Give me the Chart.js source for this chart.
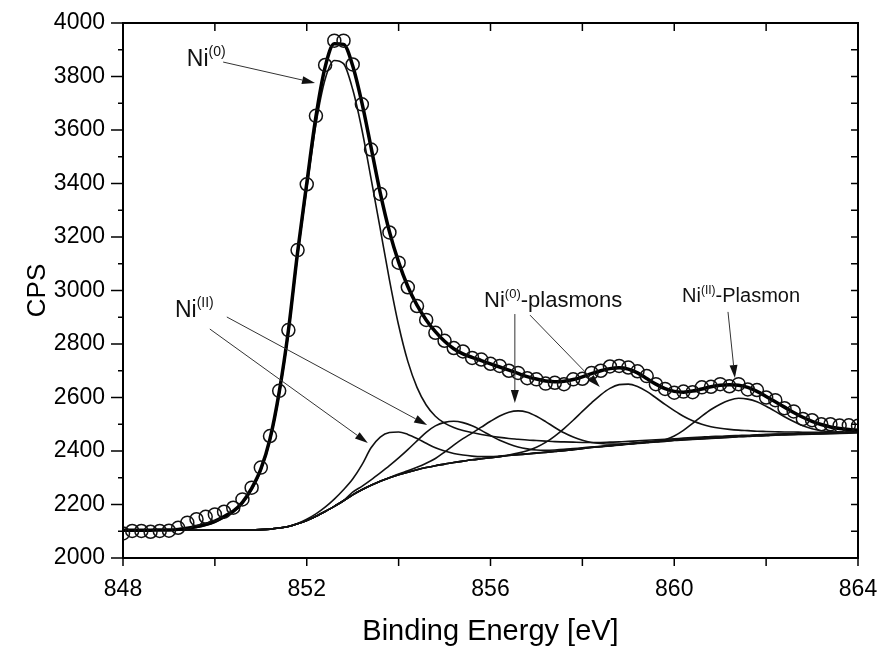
<!DOCTYPE html>
<html>
<head>
<meta charset="utf-8">
<title>Ni 2p3/2 XPS</title>
<script src="https://cdn.jsdelivr.net/npm/chart.js@4.4.1/dist/chart.umd.min.js"></script>
<style>
  body { margin: 0; background: #fff; }
  canvas { display: block; }
</style>
</head>
<body>
<canvas id="myChart" width="878" height="646"></canvas>
<script>
// binding energy grid (eV), one point every 0.2 eV
var energy = [
  848.0, 848.2, 848.4, 848.6, 848.8, 849.0, 849.2, 849.4, 849.6, 849.8,
  850.0, 850.2, 850.4, 850.6, 850.8, 851.0, 851.2, 851.4, 851.6, 851.8,
  852.0, 852.2, 852.4, 852.6, 852.8, 853.0, 853.2, 853.4, 853.6, 853.8,
  854.0, 854.2, 854.4, 854.6, 854.8, 855.0, 855.2, 855.4, 855.6, 855.8,
  856.0, 856.2, 856.4, 856.6, 856.8, 857.0, 857.2, 857.4, 857.6, 857.8,
  858.0, 858.2, 858.4, 858.6, 858.8, 859.0, 859.2, 859.4, 859.6, 859.8,
  860.0, 860.2, 860.4, 860.6, 860.8, 861.0, 861.2, 861.4, 861.6, 861.8,
  862.0, 862.2, 862.4, 862.6, 862.8, 863.0, 863.2, 863.4, 863.6, 863.8,
  864.0
];

// measured counts (circles)
var measured = [
  2092, 2101, 2101, 2098, 2101, 2102, 2113, 2132, 2145, 2154,
  2163, 2173, 2188, 2219, 2263, 2338, 2456, 2625, 2852, 3151,
  3397, 3653, 3843, 3934, 3934, 3845, 3696, 3527, 3361, 3217,
  3104, 3012, 2942, 2890, 2842, 2812, 2785, 2772, 2748, 2742,
  2726, 2718, 2700, 2692, 2672, 2668, 2652, 2655, 2650, 2668,
  2670, 2692, 2700, 2716, 2718, 2712, 2698, 2680, 2650, 2632,
  2618, 2622, 2620, 2638, 2640, 2650, 2642, 2650, 2630, 2628,
  2600, 2590, 2560, 2548, 2520, 2515, 2500, 2500, 2495, 2496,
  2494
];

// fit envelope (thick line)
var envelope = [
  2104, 2104, 2104, 2104, 2105, 2105, 2107, 2111, 2118, 2126,
  2138, 2155, 2175, 2208, 2260, 2332, 2445, 2620, 2850, 3142,
  3400, 3650, 3835, 3922, 3920, 3840, 3702, 3535, 3365, 3220,
  3106, 3015, 2945, 2890, 2846, 2810, 2782, 2763, 2750, 2738,
  2726, 2714, 2702, 2690, 2678, 2669, 2662, 2659, 2661, 2667,
  2677, 2689, 2700, 2708, 2711, 2706, 2692, 2671, 2650, 2633,
  2623, 2620, 2624, 2632, 2640, 2646, 2648, 2646, 2638, 2623,
  2604, 2584, 2564, 2544, 2526, 2511, 2499, 2490, 2484, 2480,
  2478
];

// background
var background = [
  2105, 2105, 2105, 2105, 2105, 2105, 2105, 2105, 2105, 2105,
  2105, 2105, 2105, 2105, 2105, 2106, 2108, 2112, 2118, 2128,
  2140, 2156, 2174, 2193, 2214, 2236, 2255, 2272, 2287, 2300,
  2311, 2321, 2330, 2338, 2345, 2351, 2357, 2362, 2367, 2371,
  2375, 2379, 2383, 2386, 2389, 2392, 2395, 2398, 2401, 2405,
  2409, 2413, 2416, 2419, 2422, 2425, 2428, 2431, 2434, 2436,
  2439, 2441, 2443, 2445, 2447, 2449, 2451, 2453, 2454, 2456,
  2457, 2459, 2460, 2461, 2462, 2463, 2464, 2465, 2466, 2467,
  2468
];

// Ni(0) main line
var ni0 = [
  2105, 2105, 2105, 2105, 2105, 2105, 2106, 2109, 2114, 2122,
  2133, 2150, 2171, 2204, 2255, 2326, 2438, 2610, 2838, 3128,
  3380, 3622, 3790, 3860, 3848, 3752, 3602, 3418, 3230, 3040,
  2870, 2735, 2638, 2572, 2530, 2504, 2488, 2477, 2469, 2462,
  2456, 2451, 2447, 2444, 2441, 2439, 2437, 2435, 2434, 2433,
  2432, 2432, 2432, 2433, 2434, 2436, 2438, 2440, 2442, 2444,
  2446, 2448, 2450, 2452, 2454, 2455, 2457, 2458, 2459, 2461,
  2462, 2463, 2464, 2465, 2466, 2467, 2468, 2468, 2469, 2470,
  2470
];

// Ni(II) components
var ni2a = [
  2105, 2105, 2105, 2105, 2105, 2105, 2105, 2105, 2105, 2105,
  2105, 2105, 2105, 2105, 2105, 2106, 2108, 2112, 2118, 2129,
  2145, 2165, 2190, 2220, 2255, 2295, 2348, 2412, 2452, 2469,
  2471, 2462, 2447, 2429, 2412, 2400, 2391, 2385, 2381, 2379,
  2379, 2381, 2384, 2387, 2390, 2393, 2396, 2399, 2402, 2406,
  2410, 2414, 2417, 2420, 2423, 2426, 2429, 2432, 2435, 2437,
  2440, 2442, 2444, 2446, 2448, 2450, 2452, 2454, 2455, 2457,
  2458, 2460, 2461, 2462, 2463, 2464, 2465, 2466, 2467, 2468,
  2469
];
var ni2b = [
  2105, 2105, 2105, 2105, 2105, 2105, 2105, 2105, 2105, 2105,
  2105, 2105, 2105, 2105, 2105, 2106, 2108, 2112, 2118, 2128,
  2140, 2156, 2174, 2193, 2214, 2246, 2268, 2292, 2318, 2345,
  2374, 2405, 2438, 2470, 2494, 2507, 2511, 2506, 2494, 2477,
  2458, 2440, 2426, 2415, 2408, 2404, 2403, 2404, 2406, 2409,
  2412, 2415, 2418, 2421, 2424, 2427, 2430, 2433, 2436, 2438,
  2441, 2443, 2445, 2447, 2449, 2451, 2453, 2455, 2456, 2458,
  2459, 2461, 2462, 2463, 2464, 2465, 2466, 2467, 2468, 2469,
  2470
];

// Ni(0) plasmons
var plas0a = [
  2105, 2105, 2105, 2105, 2105, 2105, 2105, 2105, 2105, 2105,
  2105, 2105, 2105, 2105, 2105, 2106, 2108, 2112, 2118, 2128,
  2140, 2156, 2174, 2193, 2214, 2236, 2255, 2272, 2287, 2300,
  2314, 2326, 2339, 2354, 2372, 2396, 2422, 2446, 2467, 2489,
  2511, 2531, 2545, 2550, 2545, 2530, 2510, 2488, 2468, 2452,
  2440, 2432, 2428, 2426, 2426, 2428, 2431, 2434, 2437, 2439,
  2442, 2444, 2446, 2448, 2450, 2452, 2454, 2456, 2457, 2459,
  2460, 2462, 2463, 2464, 2465, 2466, 2467, 2468, 2469, 2470,
  2471
];
var plas0b = [
  2105, 2105, 2105, 2105, 2105, 2105, 2105, 2105, 2105, 2105,
  2105, 2105, 2105, 2105, 2105, 2106, 2108, 2112, 2118, 2128,
  2140, 2156, 2174, 2193, 2214, 2236, 2255, 2272, 2287, 2300,
  2311, 2321, 2330, 2338, 2345, 2351, 2357, 2362, 2367, 2371,
  2375, 2379, 2385, 2392, 2401, 2414, 2432, 2456, 2484, 2515,
  2548, 2580, 2610, 2634, 2648, 2650, 2641, 2623, 2599, 2574,
  2551, 2530, 2513, 2500, 2491, 2485, 2481, 2478, 2476, 2474,
  2473, 2472, 2471, 2471, 2470, 2470, 2470, 2470, 2470, 2470,
  2470
];

// Ni(II) plasmon
var plas2 = [
  2105, 2105, 2105, 2105, 2105, 2105, 2105, 2105, 2105, 2105,
  2105, 2105, 2105, 2105, 2105, 2106, 2108, 2112, 2118, 2128,
  2140, 2156, 2174, 2193, 2214, 2236, 2255, 2272, 2287, 2300,
  2311, 2321, 2330, 2338, 2345, 2351, 2357, 2362, 2367, 2371,
  2375, 2379, 2383, 2386, 2389, 2392, 2395, 2398, 2401, 2405,
  2409, 2413, 2416, 2419, 2423, 2427, 2430, 2433, 2436, 2442,
  2456, 2477, 2503, 2530, 2555, 2575, 2590, 2597, 2594, 2584,
  2567, 2548, 2528, 2510, 2494, 2483, 2476, 2472, 2470, 2469,
  2469
];

// axis tick marks
var xTicks = [848, 850, 852, 854, 856, 858, 860, 862, 864];
var yTicks = [2000, 2100, 2200, 2300, 2400, 2500, 2600, 2700, 2800, 2900, 3000,
              3100, 3200, 3300, 3400, 3500, 3600, 3700, 3800, 3900, 4000];

// labels, anchored in data units: [main, superscript, rest, eV, CPS, font size]
var labels = [
  ['Ni', '(0)', '', 849.39, 3839, 23],
  ['Ni', '(II)', '', 849.13, 2901, 23],
  ['Ni', '(0)', '-plasmons', 855.86, 2938, 22],
  ['Ni', '(II)', '-Plasmon', 860.17, 2957, 20]
];
// arrows: [fromEV, fromCPS, toEV, toCPS]
var arrows = [
  [850.18, 3854, 852.18, 3776],
  [849.89, 2856, 853.33, 2430],
  [850.26, 2901, 854.62, 2497],
  [856.53, 2912, 856.53, 2579],
  [856.86, 2908, 858.38, 2639],
  [861.17, 2920, 861.32, 2673]
];

var FONT = "'Liberation Sans', Arial, sans-serif";

function pts(values) {
  return values.map(function(v, i) { return {x: energy[i], y: v}; });
}

function thinLine(values) {
  return {
    data: pts(values),
    borderColor: '#111',
    borderWidth: 1.6,
    pointRadius: 0,
    cubicInterpolationMode: 'monotone',
    fill: false,
    clip: 0
  };
}

var frameAndNotes = {
  id: 'frameAndNotes',
  afterDraw: function(chart) {
    var ctx = chart.ctx, a = chart.chartArea;
    var x = chart.scales.x, y = chart.scales.y;
    ctx.save();
    ctx.strokeStyle = '#000';
    ctx.lineWidth = 1.5;
    function seg(x1, y1, x2, y2) {
      ctx.beginPath(); ctx.moveTo(x1, y1); ctx.lineTo(x2, y2); ctx.stroke();
    }
    xTicks.forEach(function(v) {
      var px = x.getPixelForValue(v);
      seg(px, a.bottom, px, a.bottom + 8);
      seg(px, a.top, px, a.top + 8);
    });
    yTicks.forEach(function(v) {
      var py = y.getPixelForValue(v);
      var len = v % 200 === 0 ? 12 : 5;
      seg(a.left - len, py, a.left, py);
      seg(a.right - 7, py, a.right, py);
    });
    ctx.lineWidth = 2;
    ctx.strokeRect(a.left, a.top, a.right - a.left, a.bottom - a.top);

    // arrows
    ctx.strokeStyle = '#333';
    ctx.fillStyle = '#111';
    ctx.lineWidth = 1;
    arrows.forEach(function(ar) {
      var x1 = x.getPixelForValue(ar[0]), y1 = y.getPixelForValue(ar[1]);
      var x2 = x.getPixelForValue(ar[2]), y2 = y.getPixelForValue(ar[3]);
      var ang = Math.atan2(y2 - y1, x2 - x1);
      var L = 13, W = 4;
      var bx = x2 - L * Math.cos(ang), by = y2 - L * Math.sin(ang);
      seg(x1, y1, bx, by);
      ctx.beginPath();
      ctx.moveTo(x2, y2);
      ctx.lineTo(bx + W * Math.sin(ang), by - W * Math.cos(ang));
      ctx.lineTo(bx - W * Math.sin(ang), by + W * Math.cos(ang));
      ctx.closePath();
      ctx.fill();
    });

    // labels with superscripts
    ctx.fillStyle = '#111';
    ctx.textBaseline = 'alphabetic';
    ctx.textAlign = 'left';
    labels.forEach(function(l) {
      var px = x.getPixelForValue(l[3]), py = y.getPixelForValue(l[4]);
      var size = l[5], sup = Math.round(size * 0.6);
      ctx.font = size + 'px ' + FONT;
      ctx.fillText(l[0], px, py);
      px += ctx.measureText(l[0]).width;
      ctx.font = sup + 'px ' + FONT;
      ctx.fillText(l[1], px, py - size * 0.42);
      px += ctx.measureText(l[1]).width;
      ctx.font = size + 'px ' + FONT;
      ctx.fillText(l[2], px, py);
    });
    ctx.restore();
  }
};

var ctx = document.getElementById('myChart').getContext('2d');
var chart = new Chart(ctx, {
  type: 'line',
  data: {
    datasets: [
      {
        data: pts(measured),
        showLine: false,
        pointRadius: 6.5,
        pointHoverRadius: 6.5,
        pointBorderWidth: 1.5,
        pointBorderColor: '#111',
        pointBackgroundColor: 'rgba(0,0,0,0)',
        clip: 0
      },
      {
        data: pts(envelope),
        borderColor: '#000',
        borderWidth: 3.5,
        pointRadius: 0,
        cubicInterpolationMode: 'monotone',
        clip: 0
      },
      thinLine(ni0),
      thinLine(ni2a),
      thinLine(ni2b),
      thinLine(plas0a),
      thinLine(plas0b),
      thinLine(plas2),
      thinLine(background)
    ]
  },
  options: {
    responsive: false,
    animation: false,
    devicePixelRatio: 1,
    layout: { padding: { top: 23, right: 20, bottom: 0, left: 0 } },
    plugins: {
      legend: { display: false },
      tooltip: { enabled: false }
    },
    scales: {
      x: {
        type: 'linear',
        min: 848,
        max: 864,
        grid: { display: false, drawTicks: false },
        border: { display: false },
        ticks: {
          stepSize: 2,
          autoSkip: false,
          maxRotation: 0,
          padding: 18,
          color: '#000',
          font: { family: FONT, size: 23 },
          callback: function(v) { return v % 4 === 0 ? String(v) : ''; }
        },
        title: {
          display: true,
          text: 'Binding Energy [eV]',
          color: '#000',
          font: { family: FONT, size: 29, lineHeight: 1 },
          padding: { top: 0, bottom: 0 }
        },
        afterFit: function(s) {
          s.height = 88;
          s.paddingLeft = 0;
          s.paddingRight = 0;
        }
      },
      y: {
        min: 2000,
        max: 4000,
        grid: { display: false, drawTicks: false },
        border: { display: false },
        ticks: {
          stepSize: 200,
          padding: 18,
          color: '#000',
          font: { family: FONT, size: 23 },
          callback: function(v) { return String(v); }
        },
        title: {
          display: true,
          text: 'CPS',
          color: '#000',
          font: { family: FONT, size: 26, lineHeight: 1 },
          padding: { top: 25, bottom: 0 }
        },
        afterFit: function(s) {
          s.width = 123;
          s.paddingTop = 0;
          s.paddingBottom = 0;
        }
      }
    }
  },
  plugins: [frameAndNotes]
});
</script>
</body>
</html>
